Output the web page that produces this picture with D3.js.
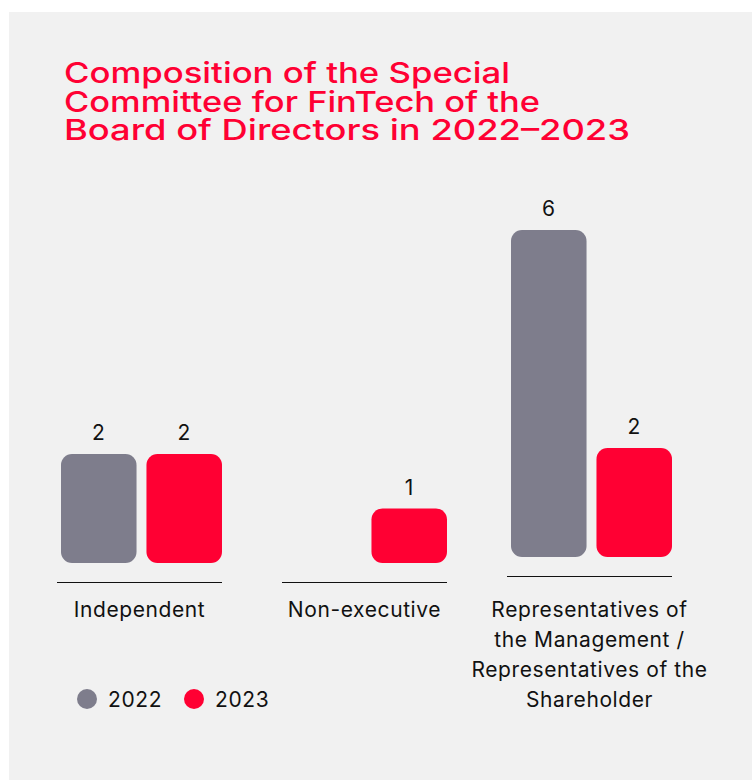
<!DOCTYPE html>
<html>
<head>
<meta charset="utf-8">
<script src="https://cdn.jsdelivr.net/npm/d3@7"></script>
<style>
  html, body { margin: 0; padding: 0; background: #ffffff; }
  svg { display: block; }
</style>
</head>
<body>
<div id="chart"></div>
<script>
const titleLines = ["Composition of the Special", "Committee for FinTech of the", "Board of Directors in 2022\u20132023"];
const categories = ["Independent", "Non-executive", "Representatives of the Management / Representatives of the Shareholder"];
const categoryLabelLines = [["Independent"], ["Non-executive"], ["Representatives of", "the Management /", "Representatives of the", "Shareholder"]];
const seriesNames = ["2022", "2023"];
const values2022 = [2, null, 6];
const values2023 = [2, 1, 2];
const seriesColors = ["#7e7d8c", "#ff0033"];

const W = 752, H = 780;
const FONT = "Inter, 'Noto Sans', sans-serif";
const svg = d3.select("#chart").append("svg").attr("width", W).attr("height", H);

svg.append("rect").attr("x", 9).attr("y", 12).attr("width", W - 9).attr("height", H - 12).attr("fill", "#f1f1f1");

// Title (wide display face approximated by stretching each line)
const titleWidths = [446, 476, 566];
titleLines.forEach((t, i) => {
  svg.append("text")
    .attr("x", 64).attr("y", 83 + i * 28.5)
    .attr("font-family", FONT)
    .attr("font-weight", 500)
    .attr("font-size", 29)
    .attr("fill", "#ff0033")
    .attr("textLength", titleWidths[i])
    .attr("lengthAdjust", "spacingAndGlyphs")
    .text(t);
});

const x0 = d3.scaleBand().domain(categories).range([57, 672]).paddingInner(0.2667).paddingOuter(0);
const x1 = d3.scaleBand().domain(seriesNames).range([4, x0.bandwidth()]).paddingInner(0.1163).paddingOuter(0);
const baseline = 563;
const groupShiftY = [0, 0, -6];
const y = d3.scaleLinear().domain([0, 6]).range([baseline, baseline - 327]);

const data = categories.map((c, i) => ({
  cat: c, i,
  vals: [{s: seriesNames[0], v: values2022[i]}, {s: seriesNames[1], v: values2023[i]}]
}));

const groups = svg.append("g").selectAll("g.grp").data(data).enter().append("g")
  .attr("class", "grp")
  .attr("transform", d => `translate(${x0(d.cat)},0)`);

const marks = groups.append("g").attr("transform", d => `translate(0,${groupShiftY[d.i]})`);

marks.selectAll("rect").data(d => d.vals.filter(v => v.v != null)).enter().append("rect")
  .attr("x", d => x1(d.s))
  .attr("width", x1.bandwidth())
  .attr("y", d => y(d.v))
  .attr("height", d => y(0) - y(d.v))
  .attr("rx", 11).attr("ry", 11)
  .attr("fill", d => seriesColors[seriesNames.indexOf(d.s)]);

marks.selectAll("text.val").data(d => d.vals.filter(v => v.v != null)).enter().append("text")
  .attr("class", "val")
  .attr("x", d => x1(d.s) + x1.bandwidth() / 2)
  .attr("y", d => y(d.v) - 14)
  .attr("text-anchor", "middle")
  .attr("font-family", FONT)
  .attr("font-size", 21)
  .attr("letter-spacing", 0.6)
  .attr("fill", "#111")
  .text(d => d.v);

// baseline rule per group
marks.append("line")
  .attr("x1", 0).attr("x2", x0.bandwidth())
  .attr("y1", baseline + 19.5).attr("y2", baseline + 19.5)
  .attr("stroke", "#111").attr("stroke-width", 1.2);

// category labels
groups.each(function(d, i) {
  const t = d3.select(this).append("text")
    .attr("text-anchor", "middle")
    .attr("font-family", FONT)
    .attr("font-size", 21)
    .attr("letter-spacing", 0.6)
    .attr("fill", "#111");
  categoryLabelLines[i].forEach((line, j) => {
    t.append("tspan").attr("x", x0.bandwidth() / 2).attr("y", baseline + 54 + j * 30).text(line);
  });
});

// legend
const legend = svg.append("g").attr("transform", "translate(87,699)");
const legendX = [0, 107];
seriesNames.forEach((s, i) => {
  const lg = legend.append("g").attr("transform", `translate(${legendX[i]},0)`);
  lg.append("circle").attr("r", 10).attr("fill", seriesColors[i]);
  lg.append("text").attr("x", 21).attr("y", 7.5)
    .attr("font-family", FONT)
    .attr("font-size", 21).attr("letter-spacing", 0.6)
    .attr("fill", "#111").text(s);
});
</script>
</body>
</html>
